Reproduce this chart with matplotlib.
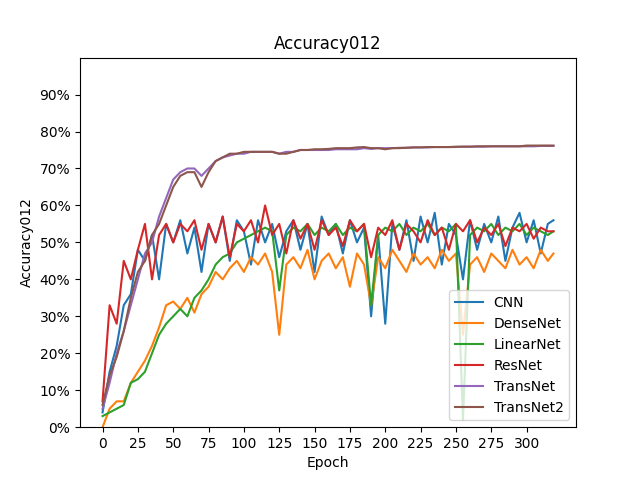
import matplotlib
matplotlib.use("Agg")
import matplotlib.pyplot as plt
from matplotlib.ticker import PercentFormatter

# values read every 5 epochs (0..315) plus the last epoch 319
epochs = list(range(0, 320, 5)) + [319]

cnn = [0.04, 0.15, 0.22, 0.33, 0.36, 0.48, 0.45, 0.52, 0.40, 0.55, 0.50, 0.56, 0.47,
       0.54, 0.42, 0.55, 0.50, 0.57, 0.45, 0.56, 0.53, 0.44, 0.56, 0.50, 0.55, 0.46,
       0.53, 0.56, 0.48, 0.55, 0.42, 0.57, 0.52, 0.55, 0.47, 0.56, 0.50, 0.54, 0.30,
       0.52, 0.28, 0.55, 0.48, 0.56, 0.45, 0.57, 0.50, 0.58, 0.44, 0.55, 0.52, 0.40,
       0.56, 0.48, 0.55, 0.50, 0.57, 0.45, 0.54, 0.58, 0.50, 0.56, 0.47, 0.55, 0.56]
densenet = [0.00, 0.05, 0.07, 0.07, 0.12, 0.15, 0.18, 0.22, 0.27, 0.33, 0.34, 0.32,
            0.35, 0.31, 0.36, 0.38, 0.42, 0.40, 0.43, 0.45, 0.42, 0.46, 0.44, 0.47,
            0.42, 0.25, 0.44, 0.46, 0.43, 0.48, 0.40, 0.45, 0.47, 0.43, 0.46, 0.38,
            0.47, 0.44, 0.33, 0.46, 0.43, 0.48, 0.45, 0.42, 0.47, 0.44, 0.46, 0.43,
            0.48, 0.45, 0.47, 0.25, 0.44, 0.46, 0.42, 0.47, 0.45, 0.43, 0.48, 0.44,
            0.46, 0.43, 0.48, 0.45, 0.47]
linearnet = [0.03, 0.04, 0.05, 0.06, 0.12, 0.13, 0.15, 0.20, 0.25, 0.28, 0.30, 0.32,
             0.30, 0.35, 0.37, 0.40, 0.44, 0.46, 0.47, 0.50, 0.51, 0.52, 0.53, 0.54,
             0.53, 0.37, 0.52, 0.54, 0.53, 0.55, 0.52, 0.54, 0.53, 0.55, 0.52, 0.54,
             0.53, 0.55, 0.33, 0.52, 0.54, 0.53, 0.55, 0.52, 0.54, 0.53, 0.55, 0.52,
             0.54, 0.53, 0.55, 0.02, 0.52, 0.54, 0.53, 0.55, 0.52, 0.54, 0.53, 0.55,
             0.52, 0.54, 0.53, 0.52, 0.53]
resnet = [0.07, 0.33, 0.28, 0.45, 0.40, 0.48, 0.55, 0.40, 0.52, 0.55, 0.50, 0.55,
          0.53, 0.56, 0.48, 0.55, 0.50, 0.57, 0.46, 0.55, 0.53, 0.56, 0.50, 0.60,
          0.52, 0.55, 0.47, 0.56, 0.51, 0.55, 0.48, 0.56, 0.52, 0.54, 0.49, 0.56,
          0.53, 0.55, 0.46, 0.54, 0.52, 0.56, 0.48, 0.55, 0.53, 0.50, 0.56, 0.52,
          0.54, 0.48, 0.55, 0.53, 0.56, 0.50, 0.54, 0.52, 0.55, 0.49, 0.54, 0.53,
          0.55, 0.51, 0.54, 0.53, 0.53]
transnet = [0.05, 0.12, 0.20, 0.26, 0.33, 0.40, 0.47, 0.50, 0.57, 0.62, 0.67, 0.69,
            0.70, 0.70, 0.68, 0.70, 0.72, 0.73, 0.735, 0.74, 0.74, 0.745, 0.745, 0.745,
            0.745, 0.74, 0.745, 0.745, 0.75, 0.75, 0.75, 0.75, 0.75, 0.752, 0.752,
            0.752, 0.752, 0.755, 0.753, 0.755, 0.755, 0.755, 0.756, 0.756, 0.757,
            0.757, 0.757, 0.758, 0.758, 0.758, 0.758, 0.759, 0.759, 0.759, 0.759,
            0.76, 0.76, 0.76, 0.76, 0.76, 0.76, 0.76, 0.761, 0.761, 0.761]
transnet2 = [0.06, 0.14, 0.19, 0.26, 0.35, 0.42, 0.45, 0.52, 0.55, 0.60, 0.65, 0.68,
             0.69, 0.69, 0.65, 0.69, 0.72, 0.73, 0.74, 0.74, 0.745, 0.745, 0.745,
             0.745, 0.745, 0.74, 0.74, 0.745, 0.75, 0.75, 0.752, 0.752, 0.753, 0.755,
             0.755, 0.755, 0.757, 0.758, 0.755, 0.755, 0.752, 0.755, 0.755, 0.756,
             0.757, 0.757, 0.758, 0.758, 0.758, 0.758, 0.759, 0.759, 0.759, 0.76,
             0.76, 0.76, 0.76, 0.76, 0.76, 0.76, 0.762, 0.762, 0.762, 0.762, 0.762]

series = {
    "CNN": cnn,
    "DenseNet": densenet,
    "LinearNet": linearnet,
    "ResNet": resnet,
    "TransNet": transnet,
    "TransNet2": transnet2,
}

fig, ax = plt.subplots(figsize=(6.4, 4.8), dpi=100)
for name, vals in series.items():
    ax.plot(epochs, vals, label=name)

ax.set_title("Accuracy012")
ax.set_xlabel("Epoch")
ax.set_ylabel("Accuracy012")
ax.set_ylim(0, 1.0)
ax.set_yticks([i / 10 for i in range(10)])
ax.yaxis.set_major_formatter(PercentFormatter(1.0, decimals=0))
ax.set_xticks(range(0, 301, 25))
ax.legend(loc="lower right")

plt.savefig("out.png")
